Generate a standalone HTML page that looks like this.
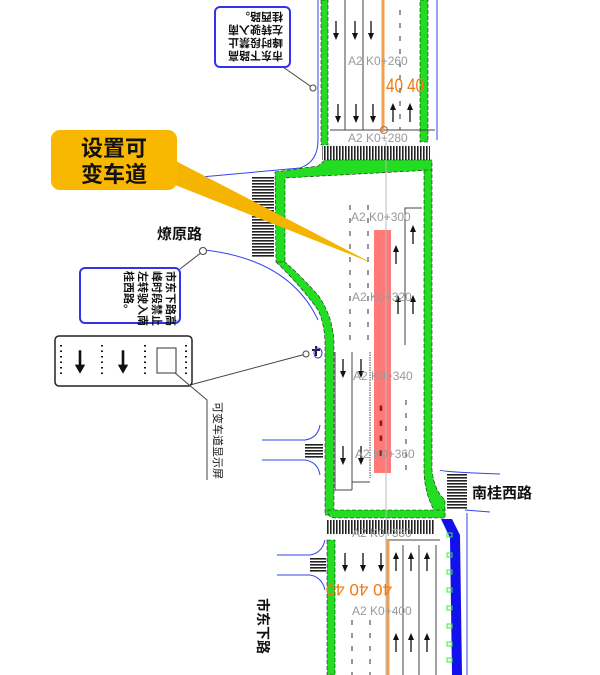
<!DOCTYPE html>
<html><head><meta charset="utf-8"><style>
html,body{margin:0;padding:0;background:#fff}
svg{display:block}
text{font-family:"Liberation Sans","Noto Sans CJK SC",sans-serif}
.k{font-family:"Liberation Sans",sans-serif;font-size:12px;fill:#999}
</style></head><body>
<svg width="600" height="675" viewBox="0 0 600 675" xmlns="http://www.w3.org/2000/svg">
<defs>
<g id="ad"><line x1="0" y1="-9" x2="0" y2="5" stroke="#111" stroke-width="1.3"/><path d="M-3,3 L0,10 L3,3 Z" fill="#111"/></g>
<g id="au"><line x1="0" y1="9" x2="0" y2="-5" stroke="#111" stroke-width="1.3"/><path d="M-3,-3 L0,-10 L3,-3 Z" fill="#111"/></g>
<pattern id="hs" width="4" height="3" patternUnits="userSpaceOnUse"><rect width="4" height="1.6" fill="#222"/></pattern>
<pattern id="vs" width="3" height="4" patternUnits="userSpaceOnUse"><rect width="1.6" height="4" fill="#222"/></pattern>
</defs>

<g fill="none" stroke="#3344ee" stroke-width="1">
<path d="M318,0 L318,140 Q318,162 300,168 L190,178"/>
<path d="M205,250 Q290,260 318,320"/>
<path d="M262,440 L305,440 Q318,438 320,425"/>
<path d="M262,460 L305,460 Q318,462 320,475"/>
<path d="M277,555 L310,555 Q322,553 325,540"/>
<path d="M277,575 L310,575 Q322,577 325,590"/>
<path d="M440,470 Q442,472 500,474"/>
<path d="M465,510 L490,512"/>
<path d="M467,513 L467,675"/>
<path d="M437,0 L437,140"/>
</g>

<g fill="#22dd22" stroke="#222" stroke-width="0.6" stroke-dasharray="4,2">
<rect x="321" y="0" width="7" height="145"/>
<rect x="420" y="0" width="8" height="142"/>
<path d="M275,172 L318,166 L325,160 L432,160 L432,170 L285,178 L285,262 L276,262 Z"/>
<path d="M276,262 Q300,285 318,310 Q325,325 325,345 L325,515 L334,515 L334,345 Q334,318 318,295 Q300,275 285,262 Z"/>
<path d="M424,170 L432,170 L432,470 Q434,490 445,500 L445,515 L437,515 Q424,495 424,470 Z"/>
<path d="M328,510 L445,510 L445,518 L336,518 Q328,518 328,512 Z"/>
<rect x="327" y="540" width="8" height="135"/>
</g>
<path d="M441,519 L452,519 L460,535 L462,675 L452,675 L450,538 Z" fill="#1111ee"/>
<g fill="none" stroke="#33ee33" stroke-width="1">
<rect x="447" y="533" width="5" height="4"/><rect x="447" y="553" width="5" height="4"/><rect x="447" y="570" width="5" height="4"/><rect x="447" y="588" width="5" height="4"/><rect x="447" y="606" width="5" height="4"/><rect x="447" y="624" width="5" height="4"/><rect x="447" y="642" width="5" height="4"/><rect x="447" y="658" width="5" height="4"/>
</g>

<rect x="322" y="146" width="108" height="14" fill="url(#vs)"/>
<rect x="252" y="176" width="22" height="82" fill="url(#hs)"/>
<rect x="305" y="444" width="18" height="14" fill="url(#hs)"/>
<rect x="447" y="473" width="20" height="37" fill="url(#hs)"/>
<rect x="327" y="520" width="108" height="14" fill="url(#vs)"/>
<rect x="310" y="558" width="16" height="14" fill="url(#hs)"/>

<g stroke="#444" stroke-width="1" fill="none">
<line x1="345" y1="0" x2="345" y2="130"/><line x1="363" y1="0" x2="363" y2="130"/>
<line x1="330" y1="130" x2="435" y2="130"/>
<path d="M405,345 L405,208 L422,208"/>
<path d="M335,352 L335,490 L352,490"/>
<path d="M352,352 L352,490 M352,482 L370,482"/>
<line x1="370" y1="352" x2="370" y2="478" stroke-dasharray="1.5,1"/>
<line x1="386" y1="540" x2="440" y2="540"/>
<line x1="403" y1="545" x2="403" y2="675"/><line x1="419" y1="545" x2="419" y2="675"/><line x1="436" y1="545" x2="436" y2="675"/>
</g>
<g stroke="#555" stroke-width="1.2" stroke-dasharray="5,8">
<line x1="400" y1="10" x2="400" y2="130"/>
<line x1="350" y1="205" x2="350" y2="340"/><line x1="368" y1="205" x2="368" y2="340"/>
<line x1="406" y1="400" x2="406" y2="470"/>
<line x1="352" y1="620" x2="352" y2="675"/><line x1="370" y1="620" x2="370" y2="675"/>
</g>

<rect x="374" y="230" width="17" height="243" fill="#ff6a6a" opacity="0.9"/>
<g fill="#991111" font-size="7"><text x="379" y="410">▮</text><text x="379" y="425">▮</text><text x="379" y="440">▮</text><text x="379" y="455">▮</text></g>

<line x1="383" y1="0" x2="383" y2="132" stroke="#f0a050" stroke-width="3"/>
<line x1="386" y1="140" x2="386" y2="675" stroke="#bbb" stroke-width="1"/>
<line x1="388" y1="540" x2="388" y2="675" stroke="#f0a050" stroke-width="3"/>
<circle cx="384" cy="130" r="3.5" fill="none" stroke="#a66"/>

<use href="#ad" x="336" y="30"/><use href="#ad" x="355" y="30"/><use href="#ad" x="371" y="30"/>
<use href="#ad" x="338" y="113"/><use href="#ad" x="356" y="113"/><use href="#ad" x="373" y="113"/>
<use href="#au" x="393" y="113"/><use href="#au" x="410" y="113"/>
<use href="#au" x="413" y="235"/><use href="#au" x="396" y="255"/>
<use href="#au" x="398" y="305"/><use href="#au" x="413" y="305"/>
<use href="#ad" x="343" y="368"/><use href="#ad" x="361" y="368"/>
<use href="#ad" x="343" y="455"/><use href="#ad" x="361" y="455"/>
<use href="#ad" x="345" y="562"/><use href="#ad" x="363" y="562"/><use href="#ad" x="381" y="562"/>
<use href="#au" x="396" y="562"/><use href="#au" x="411" y="562"/><use href="#au" x="427" y="562"/>
<use href="#au" x="396" y="643"/><use href="#au" x="411" y="643"/><use href="#au" x="427" y="643"/>

<text class="k" x="348" y="65">A2  K0+260</text>
<text class="k" x="348" y="142">A2  K0+280</text>
<text class="k" x="351" y="221">A2  K0+300</text>
<text class="k" x="352" y="301">A2  K0+320</text>
<text class="k" x="353" y="380">A2  K0+340</text>
<text class="k" x="355" y="458">A2  K0+360</text>
<text class="k" x="352" y="537">A2  K0+380</text>
<text class="k" x="352" y="615">A2  K0+400</text>
<text x="386" y="92" font-size="19" fill="#f07a10" transform="scale(0.8,1)" style="transform-origin:386px 92px">40 40</text>
<g font-size="17" fill="#f07a10" transform="rotate(180 365 590)"><text x="338" y="596">40 40 40</text></g>

<polygon points="150,175 170,158 372,263" fill="#f5b400"/>
<rect x="51" y="130" width="126" height="60" rx="9" fill="#f8b700"/>
<text x="114" y="156" font-size="22" font-weight="bold" text-anchor="middle" fill="#111">设置可</text>
<text x="114" y="182" font-size="22" font-weight="bold" text-anchor="middle" fill="#111">变车道</text>

<line x1="283" y1="67" x2="313" y2="88" stroke="#444"/><circle cx="313" cy="88" r="3" fill="#fff" stroke="#444"/>
<rect x="215" y="7" width="75" height="60" rx="5" fill="#fff" stroke="#3333ee" stroke-width="2"/>
<g transform="rotate(180 252 37)" font-size="11" font-weight="bold" fill="#111">
<text x="221" y="22">市东下路高</text><text x="221" y="35">峰时段禁止</text><text x="221" y="48">左转驶入南</text><text x="221" y="61">桂西路。</text></g>

<text x="157" y="239" font-size="15" font-weight="bold" fill="#111">燎原路</text>
<line x1="180" y1="269" x2="202" y2="252" stroke="#444"/><circle cx="203" cy="251" r="3.5" fill="#fff" stroke="#444"/>
<rect x="80" y="268" width="100" height="55" rx="5" fill="#fff" stroke="#3333ee" stroke-width="2"/>
<g transform="rotate(90 130 295)" font-size="11" font-weight="bold" fill="#111">
<text x="106" y="258">市东下路高</text><text x="106" y="272">峰时段禁止</text><text x="106" y="286">左转驶入南</text><text x="106" y="300">桂西路。</text></g>

<line x1="190" y1="385" x2="306" y2="354" stroke="#444"/><circle cx="306" cy="354" r="3" fill="#fff" stroke="#444"/>
<path d="M316,346 l0,10 M312,350 l8,0" stroke="#222" stroke-width="2"/>
<ellipse cx="318" cy="353" rx="4" ry="5" fill="none" stroke="#33e"/>
<rect x="55" y="336" width="137" height="50" rx="4" fill="#fff" stroke="#222" stroke-width="1.5"/>
<g stroke="#111" stroke-width="2" stroke-dasharray="1.5,4"><line x1="61" y1="345" x2="61" y2="377"/><line x1="102" y1="345" x2="102" y2="377"/><line x1="145" y1="345" x2="145" y2="377"/><line x1="186" y1="345" x2="186" y2="377"/></g>
<g transform="translate(80,362) scale(1.3)"><line x1="0" y1="-9" x2="0" y2="4" stroke="#111" stroke-width="2"/><path d="M-4,2 L0,9 L4,2 Z" fill="#111"/></g>
<g transform="translate(123,362) scale(1.3)"><line x1="0" y1="-9" x2="0" y2="4" stroke="#111" stroke-width="2"/><path d="M-4,2 L0,9 L4,2 Z" fill="#111"/></g>
<rect x="157" y="348" width="19" height="25" fill="#fff" stroke="#333"/>
<path d="M175,373 L207,400 L207,480" fill="none" stroke="#444"/>
<text x="0" y="0" font-size="11" fill="#111" transform="translate(214,402) rotate(90)">可变车道显示屏</text>

<text x="472" y="498" font-size="15" font-weight="bold" fill="#111">南桂西路</text>
<text x="0" y="0" font-size="14" font-weight="bold" fill="#111" transform="translate(258,598) rotate(90)">市东下路</text>
</svg>
</body></html>
